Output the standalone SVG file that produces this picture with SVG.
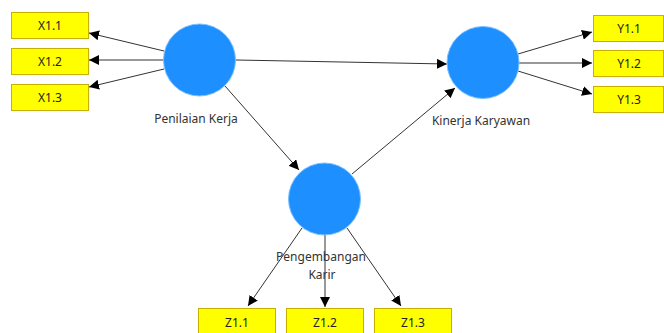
<svg xmlns="http://www.w3.org/2000/svg" width="664" height="333" viewBox="0 0 664 333">
<style>
.lv{fill:#1E8FFF;stroke:#7CC0FF;stroke-width:1}
.ind{fill:#FFFF00;stroke:#C8B000;stroke-width:1}
.t{font-family:"Noto Sans","Open Sans",sans-serif;font-size:12px;fill:#333;text-anchor:middle}
.it{font-family:"Noto Sans","Open Sans",sans-serif;font-size:12px;fill:#222;text-anchor:middle}
.c{stroke:#333;stroke-width:1;fill:none;marker-end:url(#ah)}
</style>
<defs>
<marker id="ah" viewBox="0 0 10 10" refX="10" refY="5" markerWidth="10" markerHeight="10" markerUnits="userSpaceOnUse" orient="auto">
<path d="M0,0 L10,5 L0,10 z" fill="#000"/>
</marker>
</defs>
<rect width="664" height="333" fill="#fff"/>
<g id="connectors">
<line class="c" x1="164" y1="51" x2="89" y2="33"/>
<line class="c" x1="163" y1="60" x2="89" y2="60"/>
<line class="c" x1="164" y1="69" x2="89" y2="87"/>
<line class="c" x1="236" y1="60" x2="447" y2="64"/>
<line class="c" x1="225" y1="86" x2="299" y2="170"/>
<line class="c" x1="352" y1="174" x2="455" y2="88"/>
<line class="c" x1="518" y1="54" x2="592" y2="32"/>
<line class="c" x1="519" y1="63" x2="592" y2="63"/>
<line class="c" x1="518" y1="71" x2="592" y2="94"/>
<line class="c" x1="302" y1="228" x2="248" y2="306"/>
<line class="c" x1="325" y1="235" x2="325" y2="307"/>
<line class="c" x1="347" y1="228" x2="401" y2="306"/>
</g>
<g id="penilaian-kerja">
<circle class="lv" cx="199.5" cy="60" r="36"/>
<text class="t" x="196" y="123">Penilaian Kerja</text>
</g>
<g id="kinerja-karyawan">
<circle class="lv" cx="483" cy="62.5" r="36"/>
<text class="t" x="481" y="125">Kinerja Karyawan</text>
</g>
<g id="pengembangan-karir">
<circle class="lv" cx="324.5" cy="199" r="36"/>
<text class="t" x="321" y="261">Pengembangan</text>
<text class="t" x="322" y="279">Karir</text>
</g>
<g id="x11"><rect class="ind" x="11.5" y="12.5" width="77" height="26"/><text class="it" x="50" y="30">X1.1</text></g>
<g id="x12"><rect class="ind" x="11.5" y="48.5" width="77" height="26"/><text class="it" x="50" y="66">X1.2</text></g>
<g id="x13"><rect class="ind" x="11.5" y="84.5" width="77" height="26"/><text class="it" x="50" y="102">X1.3</text></g>
<g id="y11"><rect class="ind" x="593.5" y="15.5" width="70" height="26"/><text class="it" x="629" y="33">Y1.1</text></g>
<g id="y12"><rect class="ind" x="593.5" y="50.5" width="70" height="26"/><text class="it" x="629" y="68">Y1.2</text></g>
<g id="y13"><rect class="ind" x="593.5" y="86.5" width="70" height="26"/><text class="it" x="629" y="104">Y1.3</text></g>
<g id="z11"><rect class="ind" x="198.5" y="308.5" width="77" height="28"/><text class="it" x="237" y="327">Z1.1</text></g>
<g id="z12"><rect class="ind" x="286.5" y="308.5" width="77" height="28"/><text class="it" x="325" y="327">Z1.2</text></g>
<g id="z13"><rect class="ind" x="374.5" y="308.5" width="77" height="28"/><text class="it" x="413" y="327">Z1.3</text></g>
</svg>
